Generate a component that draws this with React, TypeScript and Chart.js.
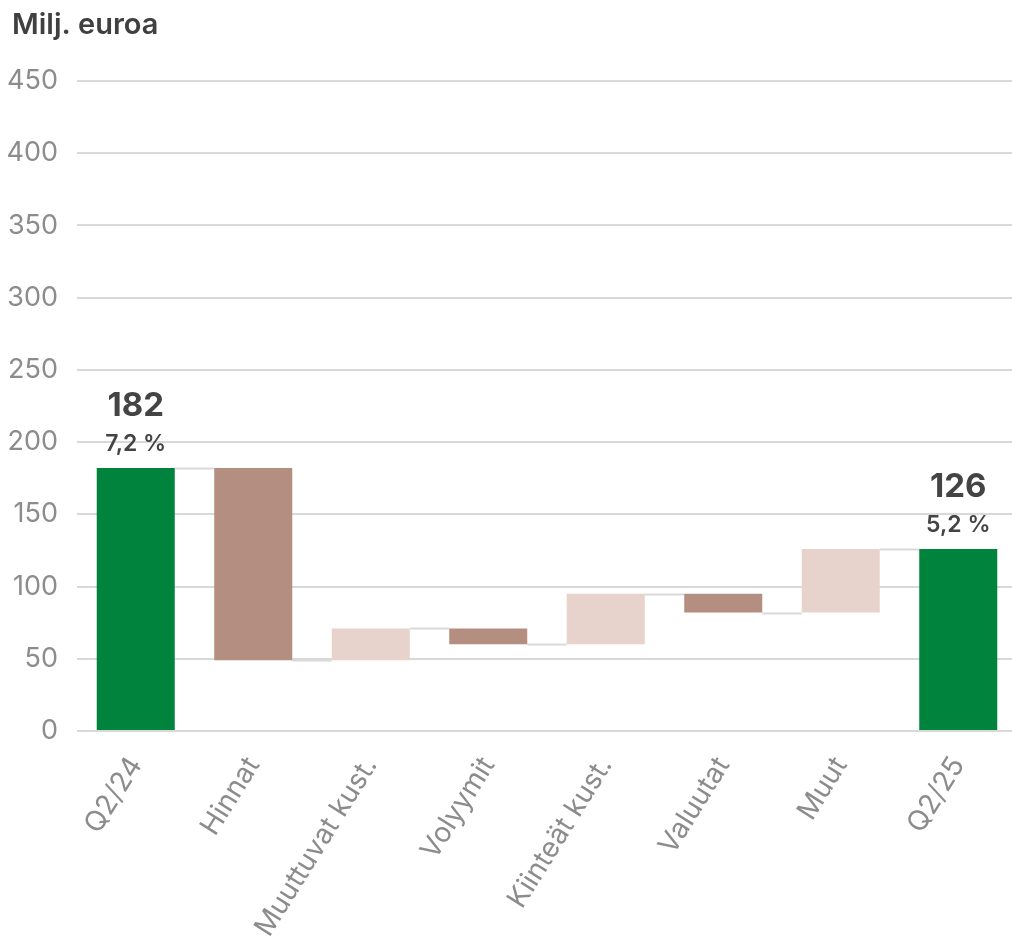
import React, { useEffect, useRef } from "react";
import { Chart, registerables } from "chart.js";

Chart.register(...registerables);

const categories = ["Q2/24", "Hinnat", "Muuttuvat kust.", "Volyymit", "Kiinteät kust.", "Valuutat", "Muut", "Q2/25"];
const startTotal = 182;
const changes = [-133, 22, -11, 35, -13, 44];
const endTotal = 126;
const marginLabels = ["7,2 %", "", "", "", "", "", "", "5,2 %"];
const yTicks = [0, 50, 100, 150, 200, 250, 300, 350, 400, 450];
const yTitle = "Milj. euroa";

const GREEN = "#00843D";
const BROWN = "#B48E80";
const PINK = "#E8D3CC";
const GRID = "#D9D9D9";
const FONT = "Inter, 'Noto Sans', sans-serif";

// Build floating bar ranges
const ranges: [number, number][] = [];
const levels: number[] = [];
const isTotal: boolean[] = [];
ranges.push([0, startTotal]);
levels.push(startTotal);
isTotal.push(true);
let running = startTotal;
for (const c of changes) {
  const next = running + c;
  ranges.push([Math.min(running, next), Math.max(running, next)]);
  levels.push(next);
  isTotal.push(false);
  running = next;
}
ranges.push([0, endTotal]);
levels.push(endTotal);
isTotal.push(true);

const colors = ranges.map((r, i) => {
  if (isTotal[i]) return GREEN;
  return changes[i - 1] < 0 ? BROWN : PINK;
});

const totalValues = ranges.map((r, i) => (isTotal[i] ? String(r[1]) : ""));

const overlayPlugin = {
  id: "overlay",
  beforeDatasetsDraw(chart: any) {
    const { ctx, scales } = chart;
    const meta = chart.getDatasetMeta(0);
    ctx.save();
    ctx.strokeStyle = GRID;
    ctx.lineWidth = 2;
    for (let i = 0; i < levels.length - 1; i++) {
      const a = meta.data[i] as any;
      const b = meta.data[i + 1] as any;
      const y = Math.round(scales.y.getPixelForValue(levels[i])) + 0.5;
      ctx.beginPath();
      ctx.moveTo(a.x + a.width / 2, y);
      ctx.lineTo(b.x - b.width / 2, y);
      ctx.stroke();
    }
    ctx.restore();
  },
  afterDatasetsDraw(chart: any) {
    const { ctx } = chart;
    const meta = chart.getDatasetMeta(0);
    ctx.save();
    ctx.textAlign = "center";
    ctx.textBaseline = "middle";
    ctx.fillStyle = "#444444";
    for (let i = 0; i < categories.length; i++) {
      if (!isTotal[i]) continue;
      const el = meta.data[i] as any;
      ctx.font = `700 33px ${FONT}`;
      ctx.fillText(totalValues[i], el.x, el.y - 62);
      ctx.font = `600 23px ${FONT}`;
      ctx.fillText(marginLabels[i], el.x, el.y - 24);
    }
    ctx.textAlign = "left";
    ctx.fillStyle = "#404040";
    ctx.font = `600 29px ${FONT}`;
    ctx.fillText(yTitle, 12, 25);
    ctx.restore();
  },
};

export default function App() {
  const ref = useRef<HTMLCanvasElement | null>(null);
  useEffect(() => {
    if (!ref.current) return;
    const chart = new Chart(ref.current, {
      type: "bar",
      data: {
        labels: categories,
        datasets: [
          {
            data: ranges as any,
            backgroundColor: colors,
            borderWidth: 0,
            barPercentage: 0.664,
            categoryPercentage: 1,
          },
        ],
      },
      options: {
        animation: false,
        responsive: false,
        maintainAspectRatio: false,
        layout: { padding: { top: 81, right: 0, left: 0, bottom: 0 } },
        plugins: { legend: { display: false }, tooltip: { enabled: false } },
        scales: {
          x: {
            grid: { display: false },
            border: { display: false },
            ticks: {
              color: "#8C8C8C",
              font: { family: FONT, size: 28 },
              minRotation: 58,
              maxRotation: 58,
              padding: 12,
              autoSkip: false,
            },
            afterFit(scale: any) {
              scale.height = 219;
            },
          },
          y: {
            min: 0,
            max: 450,
            afterBuildTicks(scale: any) {
              scale.ticks = yTicks.map((v) => ({ value: v }));
            },
            grid: { color: GRID, lineWidth: 2, drawTicks: false },
            border: { display: false },
            ticks: {
              color: "#8C8C8C",
              font: { family: FONT, size: 27 },
              padding: 19,
            },
            afterFit(scale: any) {
              scale.width = 77;
            },
          },
        },
      },
      plugins: [overlayPlugin],
    });
    return () => chart.destroy();
  }, []);
  return (
    <div style={{ position: "absolute", left: 0, top: 0, width: 1012, height: 950, overflow: "hidden", background: "#fff" }}>
      <canvas ref={ref} width={1017} height={950} style={{ width: 1017, height: 950, display: "block" }} />
    </div>
  );
}
